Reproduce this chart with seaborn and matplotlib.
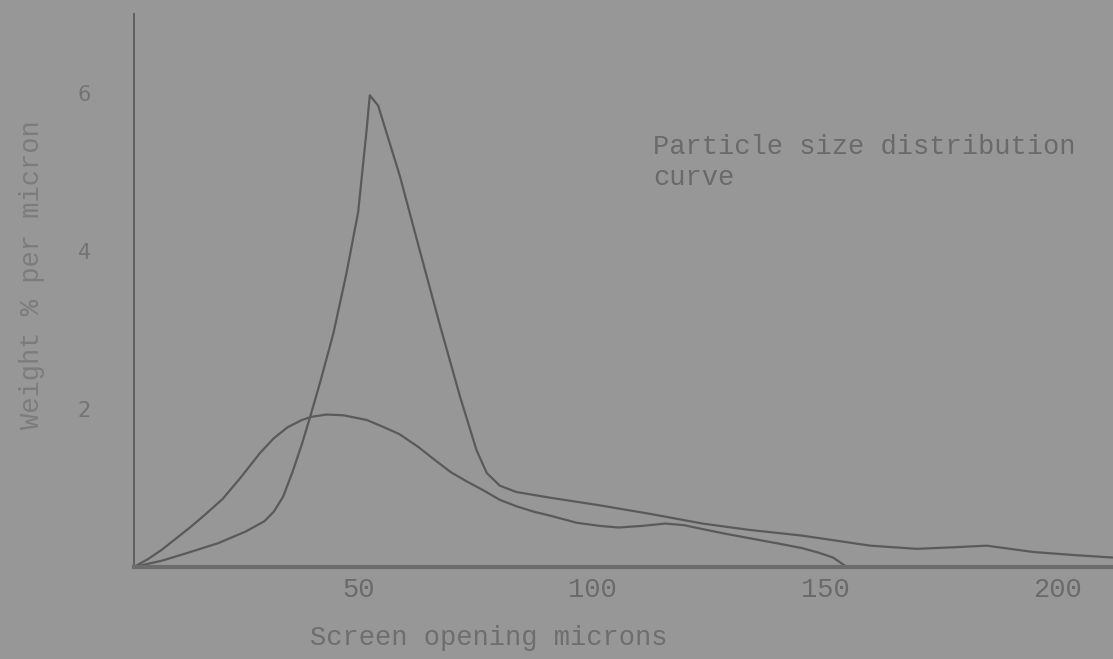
#!/usr/bin/env python3
"""Particle size distribution curves (scanned typewriter-style chart)."""
import pandas as pd
import matplotlib
matplotlib.use('Agg')
import matplotlib.pyplot as plt
from matplotlib.transforms import ScaledTranslation
import seaborn as sns

# sharp curve (narrow distribution)
sharp_x = [0, 6, 11, 18, 24, 28, 30, 32, 34, 36, 37.8, 40, 42.8, 45.6, 48.1, 49.9, 50.6,
           52.4, 57.1, 61.4, 65.7, 70, 73.5, 75.7, 78.5, 82, 89, 100, 111, 122, 132,
           143, 150, 158, 168, 176, 183, 193, 202, 210]
sharp_y = [0, 0.08, 0.17, 0.3, 0.45, 0.58, 0.7, 0.89, 1.2, 1.55, 1.9, 2.35, 2.96, 3.72, 4.49,
           5.52, 5.97, 5.84, 4.94, 3.99, 3.05, 2.15, 1.48, 1.19, 1.03, 0.95, 0.88, 0.78, 0.67,
           0.55, 0.47, 0.40, 0.34, 0.27, 0.23, 0.25, 0.27, 0.19, 0.15, 0.12]

# broad curve (wide distribution)
broad_x = [0, 3, 6, 9, 12, 15, 19, 23, 27, 30, 33, 36, 38, 41.3, 45, 50, 54, 57, 61, 64,
           68, 71.5, 75, 78.5, 82, 85.8, 89.3, 95, 100, 104, 109, 114, 118, 122, 127,
           132.5, 138, 143.3, 147, 150, 153]
broad_y = [0, 0.1, 0.22, 0.36, 0.5, 0.65, 0.86, 1.14, 1.44, 1.63, 1.77, 1.86, 1.9, 1.93,
           1.92, 1.86, 1.76, 1.68, 1.52, 1.38, 1.2, 1.08, 0.97, 0.85, 0.77, 0.70, 0.65,
           0.56, 0.52, 0.50, 0.52, 0.55, 0.53, 0.48, 0.42, 0.36, 0.30, 0.24, 0.18, 0.12, 0.0]

x_ticks = [50, 100, 150, 200]
y_ticks = [2, 4, 6]
y_tick_labels = ['2', '4', '6']

BG = '#979797'
INK = '#5a5a5a'
TYPE = 'Liberation Mono'

df = pd.concat([
    pd.DataFrame({'size': sharp_x, 'weight': sharp_y, 'curve': 'sharp'}),
    pd.DataFrame({'size': broad_x, 'weight': broad_y, 'curve': 'broad'}),
])

sns.set_theme(style='white')
plt.rcParams['font.family'] = [TYPE, 'DejaVu Sans']

fig = plt.figure(figsize=(11.13, 6.59), dpi=100, facecolor=BG)
ax = fig.add_axes([0.1204, 0.1396, 0.8796, 0.8392], facecolor=BG)

sns.lineplot(data=df, x='size', y='weight', hue='curve', units='curve', estimator=None,
             sort=False, palette={'sharp': INK, 'broad': INK}, linewidth=1.6,
             legend=False, ax=ax)

ax.set_xlim(0, 210.1)
ax.set_ylim(0, 7)

for s in ['top', 'right']:
    ax.spines[s].set_visible(False)
ax.spines['left'].set_color('#606060')
ax.spines['left'].set_linewidth(1.4)
ax.spines['bottom'].set_color('#6c6c6c')
ax.spines['bottom'].set_linewidth(3)

ax.set_xticks(x_ticks)
ax.set_xticklabels([str(t) for t in x_ticks])
ax.tick_params(axis='x', direction='in', length=7, width=1, color='#707070',
               pad=7, labelsize=19.5, labelcolor='#6a6a6a')
# typed labels sit a little left of the tick marks
shift = ScaledTranslation(-0.08, 0, fig.dpi_scale_trans)
for lab in ax.get_xticklabels():
    lab.set_transform(lab.get_transform() + shift)

ax.set_yticks(y_ticks)
ax.set_yticklabels(y_tick_labels, family='DejaVu Sans')
ax.tick_params(axis='y', direction='out', length=3, width=1, color='#808080',
               pad=28, labelsize=15, labelcolor='#737373')

ax.set_xlabel('')
ax.set_ylabel('')

fig.text(0.4394, 0.0319, 'Screen opening microns', ha='center', va='center',
         fontsize=19.5, color='#6e6e6e')
fig.text(0.0288, 0.584, 'Weight % per micron', rotation=90, ha='center', va='center',
         fontsize=19.5, color='#7c7c7c')
fig.text(0.5867, 0.7534, 'Particle size distribution\ncurve', ha='left', va='center',
         fontsize=19.5, linespacing=1.29, color='#6a6a6a')

fig.savefig('out.png', dpi=100, facecolor=BG)
